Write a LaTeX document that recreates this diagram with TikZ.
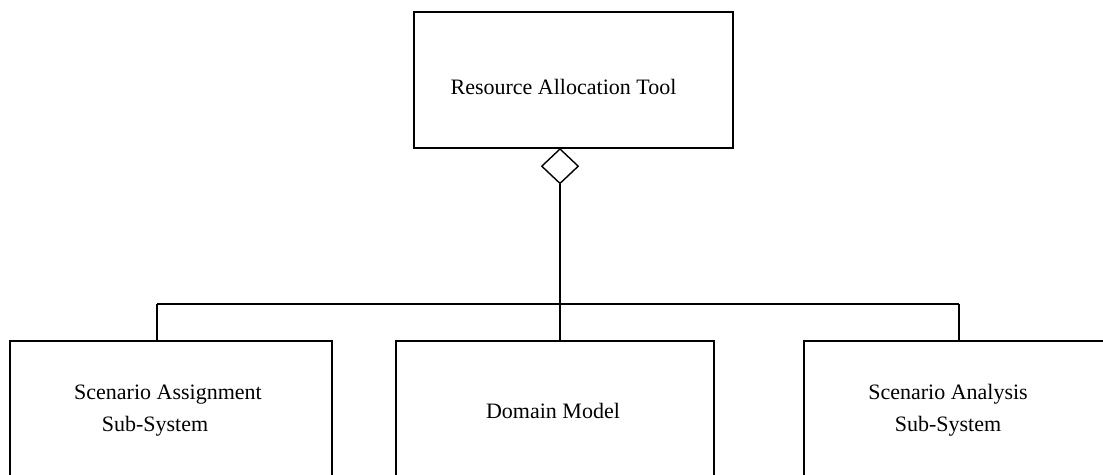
\documentclass[tikz,border=0pt]{standalone}
\usepackage{fontspec}
\setmainfont{Liberation Serif}
\usetikzlibrary{positioning,shapes.geometric}

\begin{document}
\begin{tikzpicture}[x=1pt,y=-1pt,line width=1.4pt,
        font=\fontsize{22}{32}\selectfont,
        box/.style={draw,rectangle,align=center,inner sep=0pt},
        aggr/.style={draw,diamond,fill=white,inner sep=0pt,
                     minimum width=37pt,minimum height=35pt}]
        \useasboundingbox (0,0) rectangle (1103,474);
        \clip (0,0) rectangle (1103,474);
        \node[box,minimum width=319pt,minimum height=136pt] (rat) at (573.5,80)
            {\rule{0pt}{30pt}Resource Allocation Tool\hspace*{20pt}};
        \node[aggr,anchor=north] (agg) at (560,148) {};
        \node[box,minimum width=322pt,minimum height=139pt] (sas) at (171,410.5)
            {Scenario Assignment\hspace*{6pt}\\Sub-System\hspace*{32pt}};
        \node[box,minimum width=318pt,minimum height=139pt] (dom) at (555,410.5)
            {Domain Model\hspace*{4pt}};
        \node[box,minimum width=308pt,minimum height=139pt] (san) at (958,410.5)
            {Scenario Analysis\hspace*{20pt}\\Sub-System\hspace*{20pt}};
        \coordinate (bus) at (560,304);
        \coordinate (busL) at (157,304);
        \coordinate (busR) at (959,304);
        \draw (agg.south) -- (bus);
        \draw (busL) -- (busR);
        \draw (busL) -- (busL |- sas.north);
        \draw (bus) -- (bus |- dom.north);
        \draw (busR) -- (busR |- san.north);
      \end{tikzpicture}
\end{document}
